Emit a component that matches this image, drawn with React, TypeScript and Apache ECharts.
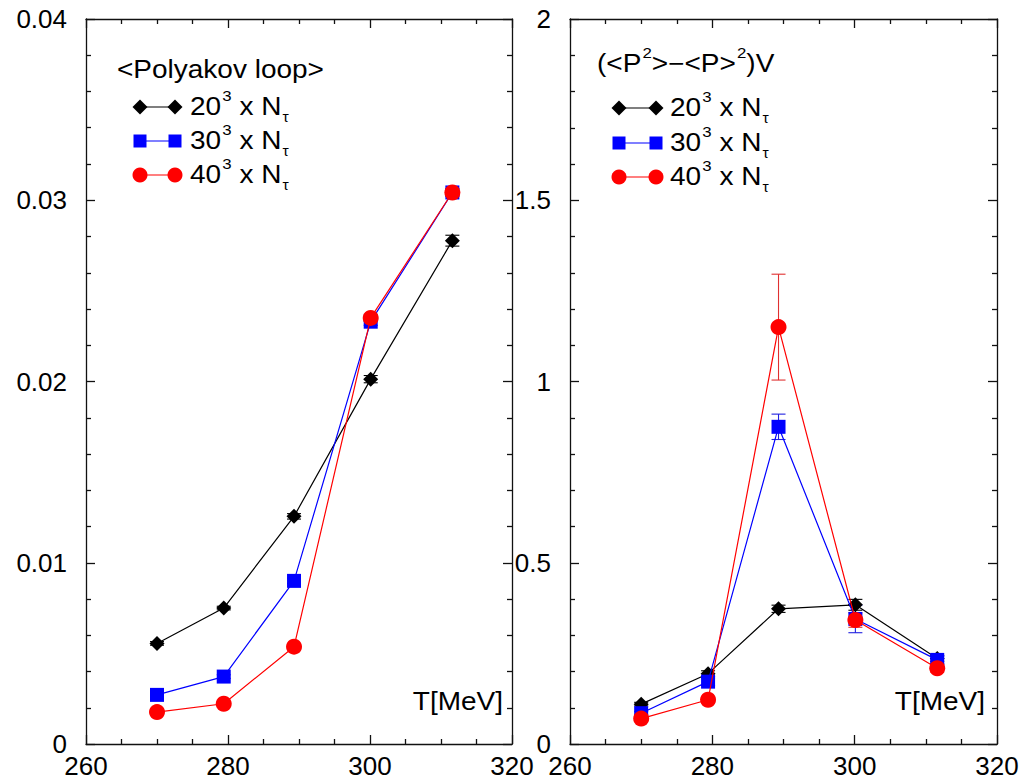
import React, { useEffect, useRef } from "react";
import * as echarts from "echarts";

// Temperatures of the simulation points (MeV)
const temperatures = [270, 279.4, 289.3, 300.1, 311.6];

// <Polyakov loop> for the three spatial volumes
const loop20 = [0.00555, 0.0075, 0.01256, 0.02013, 0.02777];
const loop30 = [0.00271, 0.00372, 0.009, 0.0233, 0.03043];
const loop40 = [0.00176, 0.00222, 0.00537, 0.02351, 0.03043];
const loopErr20 = [0.0001, 0.0001, 0.00015, 0.0002, 0.0003];
const loopErr30 = [0.0001, 0.0001, 0.00015, 0.0002, 0.0002];
const loopErr40 = [0.0001, 0.0001, 0.00015, 0.0002, 0.0002];

// Susceptibility (<P^2> - <P>^2) V
const susc20 = [0.11, 0.194, 0.373, 0.384, 0.236];
const susc30 = [0.085, 0.172, 0.875, 0.345, 0.232];
const susc40 = [0.07, 0.122, 1.15, 0.342, 0.209];
const suscErr20 = [0.005, 0.008, 0.01, 0.015, 0.008];
const suscErr30 = [0.005, 0.01, 0.035, 0.038, 0.01];
const suscErr40 = [0.005, 0.008, 0.146, 0.02, 0.01];

const FONT = "Liberation Sans, Arial, Helvetica, sans-serif";
const AXIS_COLOR = "#111";

const BLACK = "#000000";
const BLUE = "#0000ff";
const RED = "#ff0000";

const seriesLabels = ["20", "30", "40"];
const seriesColors = [BLACK, BLUE, RED];
const seriesSymbols = ["diamond", "rect", "circle"];
const symbolSizes = [15, 14, 16];

function xAxisPair(gridIndex: number) {
  const lineStyle = { color: AXIS_COLOR, width: 1.3 };
  const base = {
    type: "value",
    gridIndex,
    min: 260,
    max: 320,
    interval: 20,
    axisLine: { show: true, onZero: false, lineStyle },
    axisTick: { show: true, inside: true, length: 9, lineStyle },
    minorTick: { show: true, splitNumber: 4, length: 5, lineStyle },
    splitLine: { show: false },
    minorSplitLine: { show: false },
  };
  return [
    {
      ...base,
      position: "bottom",
      axisLabel: { fontSize: 26, fontFamily: FONT, color: "#000", margin: 9 },
    },
    { ...base, position: "top", axisLabel: { show: false } },
  ];
}

function yAxisPair(gridIndex: number, max: number, interval: number) {
  const lineStyle = { color: AXIS_COLOR, width: 1.3 };
  const base = {
    type: "value",
    gridIndex,
    min: 0,
    max,
    interval,
    axisLine: { show: true, onZero: false, lineStyle },
    axisTick: { show: true, inside: true, length: 9, lineStyle },
    minorTick: { show: true, splitNumber: 5, length: 5, lineStyle },
    splitLine: { show: false },
    minorSplitLine: { show: false },
  };
  return [
    {
      ...base,
      position: "left",
      axisLabel: {
        fontSize: 26,
        fontFamily: FONT,
        color: "#000",
        margin: 19,
        formatter: (v: number) => String(Math.round(v * 1000) / 1000),
      },
    },
    { ...base, position: "right", axisLabel: { show: false } },
  ];
}

function lineSeries(axisIdx: number, ys: number[], k: number) {
  return {
    type: "line",
    xAxisIndex: axisIdx,
    yAxisIndex: axisIdx,
    data: temperatures.map((t, i) => [t, ys[i]]),
    symbol: seriesSymbols[k],
    symbolSize: symbolSizes[k],
    showAllSymbol: true,
    lineStyle: { color: seriesColors[k], width: 1.2 },
    itemStyle: { color: seriesColors[k] },
    z: 3 + k,
    emphasis: { disabled: true },
  };
}

function errorSeries(axisIdx: number, ys: number[], errs: number[], k: number) {
  const color = k === 2 ? "#e03030" : k === 1 ? "#2020e0" : "#000";
  return {
    type: "custom",
    xAxisIndex: axisIdx,
    yAxisIndex: axisIdx,
    z: 2 + k,
    data: temperatures.map((t, i) => [t, ys[i] - errs[i], ys[i] + errs[i]]),
    encode: { x: 0, y: [1, 2] },
    renderItem: (_params: any, api: any) => {
      const lo = api.coord([api.value(0), api.value(1)]);
      const hi = api.coord([api.value(0), api.value(2)]);
      const half = 7;
      const style = { stroke: color, lineWidth: 1.1 };
      return {
        type: "group",
        children: [
          { type: "line", shape: { x1: lo[0], y1: lo[1], x2: hi[0], y2: hi[1] }, style },
          { type: "line", shape: { x1: lo[0] - half, y1: lo[1], x2: lo[0] + half, y2: lo[1] }, style },
          { type: "line", shape: { x1: hi[0] - half, y1: hi[1], x2: hi[0] + half, y2: hi[1] }, style },
        ],
      };
    },
  };
}

// Legend sample: marker — line — marker
function legendSample(x1: number, x2: number, y: number, k: number) {
  const color = seriesColors[k];
  const marker = (cx: number) => {
    if (k === 0) {
      return {
        type: "polygon",
        shape: { points: [[cx, y - 7.5], [cx + 7.5, y], [cx, y + 7.5], [cx - 7.5, y]] },
        style: { fill: color },
      };
    }
    if (k === 1) {
      return { type: "rect", shape: { x: cx - 6.5, y: y - 6.5, width: 13, height: 13 }, style: { fill: color } };
    }
    return { type: "circle", shape: { cx, cy: y, r: 7.5 }, style: { fill: color } };
  };
  return [
    { type: "line", shape: { x1: x1, y1: y, x2: x2, y2: y }, style: { stroke: color, lineWidth: 1.2 } },
    marker(x1),
    marker(x2),
  ];
}

const richStyles = {
  b: { fontSize: 25, fontFamily: FONT, fill: "#000" },
  sup: { fontSize: 15, fontFamily: FONT, fill: "#000", padding: [0, 0, 22, 1] },
  sub: { fontSize: 14, fontFamily: FONT, fill: "#000", padding: [20, 0, 0, 1] },
};

function legendLabel(x: number, y: number, k: number) {
  return {
    type: "text",
    x,
    y,
    scaleX: 1.12,
    style: {
      text: `{b|${seriesLabels[k]}}{sup|3}{b| x N}{sub|τ}`,
      rich: richStyles,
      verticalAlign: "middle",
      align: "left",
    },
  };
}

function titleText(x: number, y: number, text: string) {
  return {
    type: "text",
    x,
    y,
    scaleX: 1.12,
    style: { text, rich: richStyles, verticalAlign: "middle", align: "left" },
  };
}

function unitText(x: number, y: number) {
  return {
    type: "text",
    x,
    y,
    scaleX: 1.12,
    style: {
      text: "T[MeV]",
      fontSize: 25,
      fontFamily: FONT,
      fill: "#000",
      align: "right",
      verticalAlign: "middle",
    },
  };
}

export default function App() {
  const ref = useRef<HTMLDivElement>(null);

  useEffect(() => {
    if (!ref.current) return;
    const chart = echarts.init(ref.current, undefined, { renderer: "svg" });

    const leftRows = [107, 141, 175];
    const rightRows = [108, 143, 177];

    const graphics: any[] = [
      titleText(117, 70, "{b|<Polyakov loop>}"),
      titleText(597, 64, "{b|(<P}{sup|2}{b|>−<P>}{sup|2}{b|)V}"),
      unitText(503, 702),
      unitText(985, 702),
    ];
    [0, 1, 2].forEach((k) => {
      graphics.push(...legendSample(140, 175, leftRows[k], k));
      graphics.push(legendLabel(190, leftRows[k], k));
      graphics.push(...legendSample(619, 656, rightRows[k], k));
      graphics.push(legendLabel(670, rightRows[k], k));
    });

    const loops = [loop20, loop30, loop40];
    const loopErrs = [loopErr20, loopErr30, loopErr40];
    const suscs = [susc20, susc30, susc40];
    const suscErrs = [suscErr20, suscErr30, suscErr40];

    const series: any[] = [];
    [0, 1, 2].forEach((k) => {
      series.push(errorSeries(0, loops[k], loopErrs[k], k));
      series.push(lineSeries(0, loops[k], k));
      series.push(errorSeries(2, suscs[k], suscErrs[k], k));
      series.push(lineSeries(2, suscs[k], k));
    });

    chart.setOption({
      animation: false,
      backgroundColor: "#ffffff",
      grid: [
        { left: 86, top: 19, width: 426, height: 725 },
        { left: 570, top: 19, width: 427, height: 725 },
      ],
      xAxis: [...xAxisPair(0), ...xAxisPair(1)],
      yAxis: [...yAxisPair(0, 0.04, 0.01), ...yAxisPair(1, 2, 0.5)],
      series,
      graphic: { elements: graphics },
    });

    return () => chart.dispose();
  }, []);

  return (
    <div
      ref={ref}
      style={{ position: "absolute", left: 0, top: 0, width: 1022, height: 781 }}
    />
  );
}
